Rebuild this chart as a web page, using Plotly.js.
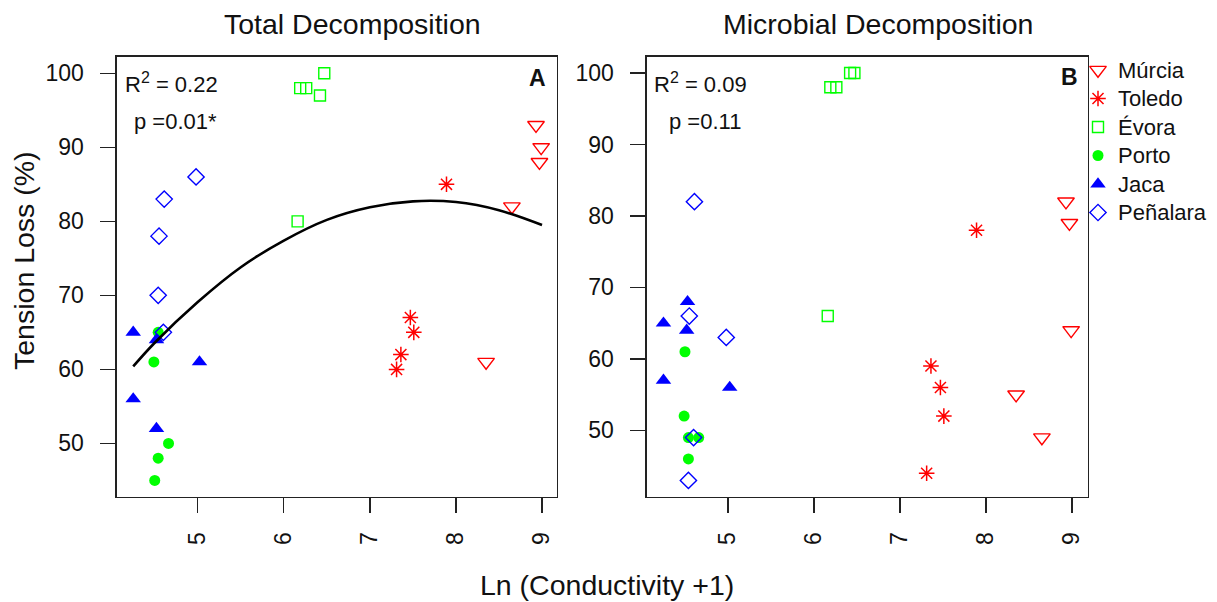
<!DOCTYPE html>
<html>
<head>
<meta charset="utf-8">
<script src="https://cdn.plot.ly/plotly-3.0.1.min.js"></script>
<style>html,body{margin:0;padding:0;background:#fff;}#chart{width:1217px;height:602px;}</style>
</head>
<body>
<div id="chart"></div>
<script>
// ---- Data ----
const sites = ['Múrcia', 'Toledo', 'Évora', 'Porto', 'Jaca', 'Peñalara'];

// Total decomposition (panel A)
const murciaX_total = [8.93, 8.99, 8.97, 8.65, 8.35];
const murciaY_total = [93, 90, 88, 82, 61];
const toledoX_total = [7.89, 7.47, 7.51, 7.36, 7.31];
const toledoY_total = [85, 67, 65, 62, 60];
const evoraX_total = [6.47, 6.19, 6.26, 6.42, 6.16];
const evoraY_total = [100, 98, 98, 97, 80];
const portoX_total = [4.54, 4.49, 4.66, 4.54, 4.50];
const portoY_total = [65, 61, 50, 48, 45];
const jacaX_total = [4.25, 4.52, 5.02, 4.25, 4.52];
const jacaY_total = [65, 64, 61, 56, 52];
const penalaraX_total = [4.98, 4.61, 4.55, 4.54, 4.60];
const penalaraY_total = [86, 83, 78, 70, 65];

// Quadratic fit curve in panel A
const fitX_total = [4.25, 4.5, 5.0, 5.5, 6.0, 6.5, 7.0, 7.5, 8.0, 8.5, 9.0];
const fitY_total = [60.4, 63.6, 69.1, 73.8, 77.4, 80.2, 81.9, 82.7, 82.6, 81.5, 79.5];

// Microbial decomposition (panel B)
const murciaX_mic = [8.93, 8.97, 8.99, 8.35, 8.65];
const murciaY_mic = [82, 79, 64, 55, 49];
const toledoX_mic = [7.89, 7.36, 7.47, 7.51, 7.31];
const toledoY_mic = [78, 59, 56, 52, 44];
const evoraX_mic = [6.42, 6.47, 6.19, 6.26, 6.16];
const evoraY_mic = [100, 100, 98, 98, 66];
const portoX_mic = [4.50, 4.49, 4.54, 4.66, 4.54];
const portoY_mic = [61, 52, 49, 49, 46];
const jacaX_mic = [4.25, 4.53, 4.52, 4.25, 5.02];
const jacaY_mic = [65, 68, 64, 57, 56];
const penalaraX_mic = [4.61, 4.55, 4.98, 4.60, 4.54];
const penalaraY_mic = [82, 66, 63, 49, 43];

const xTicks = [5, 6, 7, 8, 9];
const yTicks = [50, 60, 70, 80, 90, 100];

const panelTitles = ['Total Decomposition', 'Microbial Decomposition'];
const SUP2 = '<sup><span style="font-size:16px">2</span></sup>';
const stats = [['R' + SUP2 + ' = 0.22', 'p =0.01*', 'A'], ['R' + SUP2 + ' = 0.09', 'p =0.11', 'B']];
const yTitle = 'Tension Loss (%)';
const xTitle = 'Ln (Conductivity +1)';

// ---- Styles ----
const RED = '#FF0000', GREEN = '#00FF00', BLUE = '#0000FF';
const styles = {
  'Múrcia':   {symbol: 'triangle-down-open', color: RED, size: 14.5, lw: 1.4},
  'Toledo':   {symbol: 'asterisk-open', color: RED, size: 13, lw: 1.5},
  'Évora':    {symbol: 'square-open', color: GREEN, size: 11, lw: 1.4},
  'Porto':    {symbol: 'circle', color: GREEN, size: 11, lw: 0},
  'Jaca':     {symbol: 'triangle-up', color: BLUE, size: 13.5, lw: 0},
  'Peñalara': {symbol: 'diamond-open', color: BLUE, size: 12.5, lw: 1.4}
};

const totalData = {
  'Múrcia': [murciaX_total, murciaY_total], 'Toledo': [toledoX_total, toledoY_total],
  'Évora': [evoraX_total, evoraY_total], 'Porto': [portoX_total, portoY_total],
  'Jaca': [jacaX_total, jacaY_total], 'Peñalara': [penalaraX_total, penalaraY_total]
};
const micData = {
  'Múrcia': [murciaX_mic, murciaY_mic], 'Toledo': [toledoX_mic, toledoY_mic],
  'Évora': [evoraX_mic, evoraY_mic], 'Porto': [portoX_mic, portoY_mic],
  'Jaca': [jacaX_mic, jacaY_mic], 'Peñalara': [penalaraX_mic, penalaraY_mic]
};

const W = 1217, H = 602;
const px = v => v / W, py = v => 1 - v / H;
const FONT = 'Liberation Sans, Arial, Helvetica, sans-serif';

const traces = [];
const legendAnn = [];
sites.forEach(function (s, i) {
  const st = styles[s];
  const mk = {symbol: st.symbol, color: st.color, size: st.size,
              line: {color: st.color, width: st.lw}};
  traces.push({type: 'scatter', mode: 'markers', name: s, showlegend: false,
               x: totalData[s][0], y: totalData[s][1], xaxis: 'x', yaxis: 'y', marker: mk,
               cliponaxis: false, hoverinfo: 'x+y+name'});
  traces.push({type: 'scatter', mode: 'markers', name: s, showlegend: false,
               x: micData[s][0], y: micData[s][1], xaxis: 'x2', yaxis: 'y2', marker: mk,
               cliponaxis: false, hoverinfo: 'x+y+name'});
  // legend key (row i of the key box)
  traces.push({type: 'scatter', mode: 'markers', name: s, showlegend: false,
               x: [0.5], y: [i], xaxis: 'x3', yaxis: 'y3', marker: mk,
               cliponaxis: false, hoverinfo: 'skip'});
  legendAnn.push({text: s, xref: 'paper', x: px(1116), yref: 'y3', y: i, showarrow: false,
                  xanchor: 'left', yanchor: 'middle', font: {family: FONT, size: 22, color: '#111'}});
});
traces.push({type: 'scatter', mode: 'lines', x: fitX_total, y: fitY_total, xaxis: 'x', yaxis: 'y',
             line: {color: '#000', width: 2.6, shape: 'spline'}, showlegend: false, hoverinfo: 'skip'});

function xax(domain, range) {
  return {domain: domain, range: range, tickmode: 'array', tickvals: xTicks, ticktext: xTicks.map(String),
          ticks: 'outside', ticklen: 15, tickwidth: 1.3, tickcolor: '#222', tickangle: -90,
          ticklabelstandoff: 10,
          showline: true, linecolor: '#222', linewidth: 1.3, mirror: true,
          showgrid: false, zeroline: false, tickfont: {size: 23, color: '#111', family: FONT}};
}
function yax(domain, range, anchor) {
  return {domain: domain, range: range, anchor: anchor, tickmode: 'array', tickvals: yTicks,
          ticks: 'outside', ticklen: 15, tickwidth: 1.3, tickcolor: '#222',
          ticklabelstandoff: 12,
          showline: true, linecolor: '#222', linewidth: 1.3, mirror: true,
          showgrid: false, zeroline: false, tickfont: {size: 23, color: '#111', family: FONT}};
}

const yDom = [py(496.7), py(56.7)];
const annFont = {family: FONT, size: 22, color: '#111'};
const annotations = [
  {text: panelTitles[0], x: px(352), y: py(24), xref: 'paper', yref: 'paper', showarrow: false,
   xanchor: 'center', yanchor: 'middle', font: {family: FONT, size: 28.5, color: '#111'}},
  {text: panelTitles[1], x: px(878), y: py(24), xref: 'paper', yref: 'paper', showarrow: false,
   xanchor: 'center', yanchor: 'middle', font: {family: FONT, size: 28.5, color: '#111'}},
  {text: yTitle, x: px(24), y: py(261), xref: 'paper', yref: 'paper', showarrow: false, textangle: -90,
   xanchor: 'center', yanchor: 'middle', font: {family: FONT, size: 28.5, color: '#111'}},
  {text: xTitle, x: px(607), y: py(585), xref: 'paper', yref: 'paper', showarrow: false,
   xanchor: 'center', yanchor: 'middle', font: {family: FONT, size: 28.5, color: '#111'}},
  {text: stats[0][0], x: px(123), y: py(83), xref: 'paper', yref: 'paper', showarrow: false,
   xanchor: 'left', yanchor: 'middle', font: annFont},
  {text: stats[0][1], x: px(132), y: py(121), xref: 'paper', yref: 'paper', showarrow: false,
   xanchor: 'left', yanchor: 'middle', font: annFont},
  {text: '<b>' + stats[0][2] + '</b>', x: px(537), y: py(78), xref: 'paper', yref: 'paper', showarrow: false,
   xanchor: 'center', yanchor: 'middle', font: {family: FONT, size: 23, color: '#111'}},
  {text: stats[1][0], x: px(652), y: py(83), xref: 'paper', yref: 'paper', showarrow: false,
   xanchor: 'left', yanchor: 'middle', font: annFont},
  {text: stats[1][1], x: px(667), y: py(121), xref: 'paper', yref: 'paper', showarrow: false,
   xanchor: 'left', yanchor: 'middle', font: annFont},
  {text: '<b>' + stats[1][2] + '</b>', x: px(1069), y: py(77), xref: 'paper', yref: 'paper', showarrow: false,
   xanchor: 'center', yanchor: 'middle', font: {family: FONT, size: 23, color: '#111'}}
].concat(legendAnn);

// legend key box: rows 28.5 px apart, first row centred at y = 70 px
const rowH = 28.5, row0 = 70;
const layout = {
  width: W, height: H,
  margin: {l: 0, r: 0, t: 0, b: 0, pad: 0},
  paper_bgcolor: '#fff', plot_bgcolor: 'rgba(0,0,0,0)',
  font: {family: FONT, color: '#111'},
  xaxis: Object.assign(xax([px(116.7), px(557)], [4.058, 9.174]), {anchor: 'y'}),
  yaxis: yax(yDom, [42.8, 102.24], 'x'),
  xaxis2: Object.assign(xax([px(646.7), px(1088)], [4.055, 9.186]), {anchor: 'y2'}),
  yaxis2: yax(yDom, [40.72, 102.28], 'x2'),
  xaxis3: {domain: [px(1088), px(1108)], range: [0, 1], visible: false, anchor: 'y3', fixedrange: true},
  yaxis3: {domain: [0, 1], range: [(H - row0) / rowH, -row0 / rowH], visible: false, anchor: 'x3', fixedrange: true},
  showlegend: false,
  annotations: annotations
};

Plotly.newPlot('chart', traces, layout, {displayModeBar: false, staticPlot: true});
</script>
</body>
</html>
